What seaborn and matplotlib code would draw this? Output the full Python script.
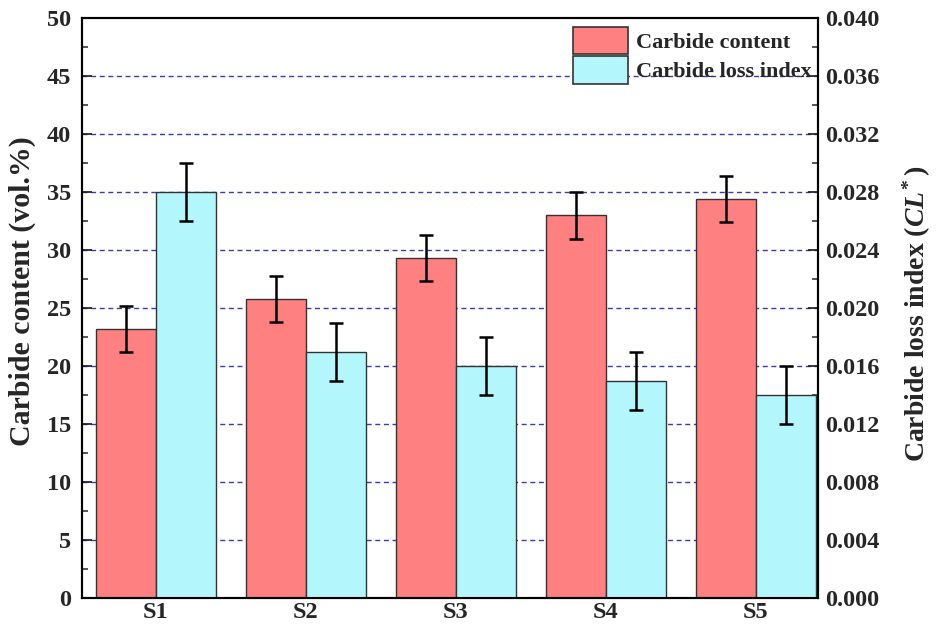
import matplotlib
matplotlib.use("Agg")
import matplotlib.pyplot as plt
from matplotlib.patches import Patch
from matplotlib.ticker import MultipleLocator, FormatStrFormatter
import seaborn as sns
import pandas as pd
import numpy as np

samples = ["S1", "S2", "S3", "S4", "S5"]
carbide_content = [23.2, 25.8, 29.3, 33.0, 34.4]
content_err = [2.0, 2.0, 2.0, 2.0, 2.0]
loss_index = [0.028, 0.017, 0.016, 0.015, 0.014]
loss_err = [0.002, 0.002, 0.002, 0.002, 0.002]

series = ["Carbide content", "Carbide loss index"]
colors = {"Carbide content": "#FF8080", "Carbide loss index": "#B3F6FC"}

sns.set_style("ticks")
plt.rcParams["font.family"] = ["Liberation Serif", "DejaVu Serif"]
plt.rcParams["font.weight"] = "bold"
plt.rcParams["mathtext.fontset"] = "custom"
plt.rcParams["mathtext.it"] = "Liberation Serif:italic:bold"
plt.rcParams["mathtext.rm"] = "Liberation Serif:bold"
plt.rcParams["mathtext.bf"] = "Liberation Serif:bold"

df_left = pd.DataFrame({
    "sample": samples * 2,
    "series": [series[0]] * 5 + [series[1]] * 5,
    "value": carbide_content + [np.nan] * 5,
})
df_right = pd.DataFrame({
    "sample": samples * 2,
    "series": [series[0]] * 5 + [series[1]] * 5,
    "value": [np.nan] * 5 + loss_index,
})

fig = plt.figure(figsize=(9.36, 6.27), dpi=100)
ax = fig.add_axes([0.0876, 0.046, 0.786, 0.925])
ax2 = ax.twinx()

bar_kw = dict(x="sample", y="value", hue="series", hue_order=series,
              palette=colors, width=0.8, errorbar=None, legend=False,
              edgecolor="#333333", linewidth=1.0, saturation=1)
sns.barplot(data=df_left, ax=ax, **bar_kw)
sns.barplot(data=df_right, ax=ax2, **bar_kw)

def add_errors(axis, values, errs):
    patches = [p for p in axis.patches if np.isfinite(p.get_height()) and p.get_height() > 0]
    patches.sort(key=lambda p: p.get_x())
    xs = [p.get_x() + p.get_width() / 2 for p in patches]
    axis.errorbar(xs, values, yerr=errs, fmt="none", ecolor="black",
                  elinewidth=1.8, capsize=5, capthick=1.8, zorder=5)

add_errors(ax, carbide_content, content_err)
add_errors(ax2, loss_index, loss_err)

ax.set_xlim(-0.493, 4.413)
ax.set_ylim(0, 50)
ax2.set_ylim(0, 0.040)

ax.yaxis.set_major_locator(MultipleLocator(5))
ax.yaxis.set_minor_locator(MultipleLocator(2.5))
ax2.yaxis.set_major_locator(MultipleLocator(0.004))
ax2.yaxis.set_minor_locator(MultipleLocator(0.002))
ax2.yaxis.set_major_formatter(FormatStrFormatter("%.3f"))

for g in np.arange(5, 50, 5):
    ax.axhline(g, color="#3a3ab8", linestyle=(0, (3.6, 2.6)), linewidth=1.0, zorder=0)
ax.set_axisbelow(True)

ax.tick_params(axis="y", which="major", direction="in", length=7, width=1.3, labelsize=17.5, pad=8)
ax.tick_params(axis="y", which="minor", direction="in", length=4, width=1.1)
ax2.tick_params(axis="y", which="major", direction="in", length=7, width=1.3, labelsize=17.5, pad=5)
ax2.tick_params(axis="y", which="minor", direction="in", length=4, width=1.1)
ax.tick_params(axis="x", length=0, labelsize=17.5, pad=3)
ax2.tick_params(axis="x", length=0)

for a in (ax, ax2):
    for s in a.spines.values():
        s.set_linewidth(1.5)
        s.set_color("black")
    for lab in a.get_yticklabels() + a.get_xticklabels():
        lab.set_fontweight("bold")

ax.set_xlabel("")
ax2.set_xlabel("")
ax.set_ylabel("Carbide content (vol.%)", fontsize=21.5, fontweight="bold")
ax.yaxis.set_label_coords(-0.062, 0.53)
ax2.set_ylabel(r"Carbide loss index ($CL^{\!*}$)", fontsize=20, fontweight="bold")
ax2.yaxis.set_label_coords(1.113, 0.49)

handles = [Patch(facecolor=colors[s], edgecolor="#333333", linewidth=1.2, label=s) for s in series]
leg = ax2.legend(handles=handles, loc="upper left", bbox_to_anchor=(0.655, 1.0),
                 frameon=False, fontsize=16, handlelength=2.5, handleheight=1.5,
                 handletextpad=0.35, labelspacing=0.1, borderaxespad=0.0)
for t in leg.get_texts():
    t.set_fontweight("bold")

fig.savefig("out.png", dpi=100)
